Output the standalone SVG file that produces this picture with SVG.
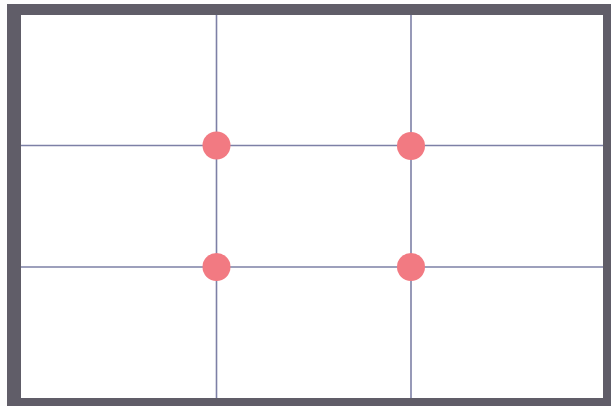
<svg xmlns="http://www.w3.org/2000/svg" width="611" height="406" viewBox="0 0 611 406">
<style>
.grid{stroke:#7d80a6;stroke-width:1.6;fill:none}
.dot{fill:#f27a82}
</style>
<rect x="0" y="0" width="611" height="406" fill="#fdfdfd"/>
<rect x="21" y="15" width="582" height="383" fill="#ffffff"/>
<g id="connectors">
<line class="grid" x1="216.5" y1="15" x2="216.5" y2="398"/>
<line class="grid" x1="411" y1="15" x2="411" y2="398"/>
<line class="grid" x1="21" y1="145.5" x2="603" y2="145.5"/>
<line class="grid" x1="21" y1="267" x2="603" y2="267"/>
</g>
<path id="frame" fill="#605d68" fill-rule="evenodd" d="M7,4 H611 V406 H7 Z M21,15 H603 V398 H21 Z"/>
<g id="p1"><circle class="dot" cx="216.5" cy="145.5" r="14"/></g>
<g id="p2"><circle class="dot" cx="411" cy="146" r="14"/></g>
<g id="p3"><circle class="dot" cx="216.5" cy="267" r="14"/></g>
<g id="p4"><circle class="dot" cx="411" cy="267" r="14"/></g>
</svg>
